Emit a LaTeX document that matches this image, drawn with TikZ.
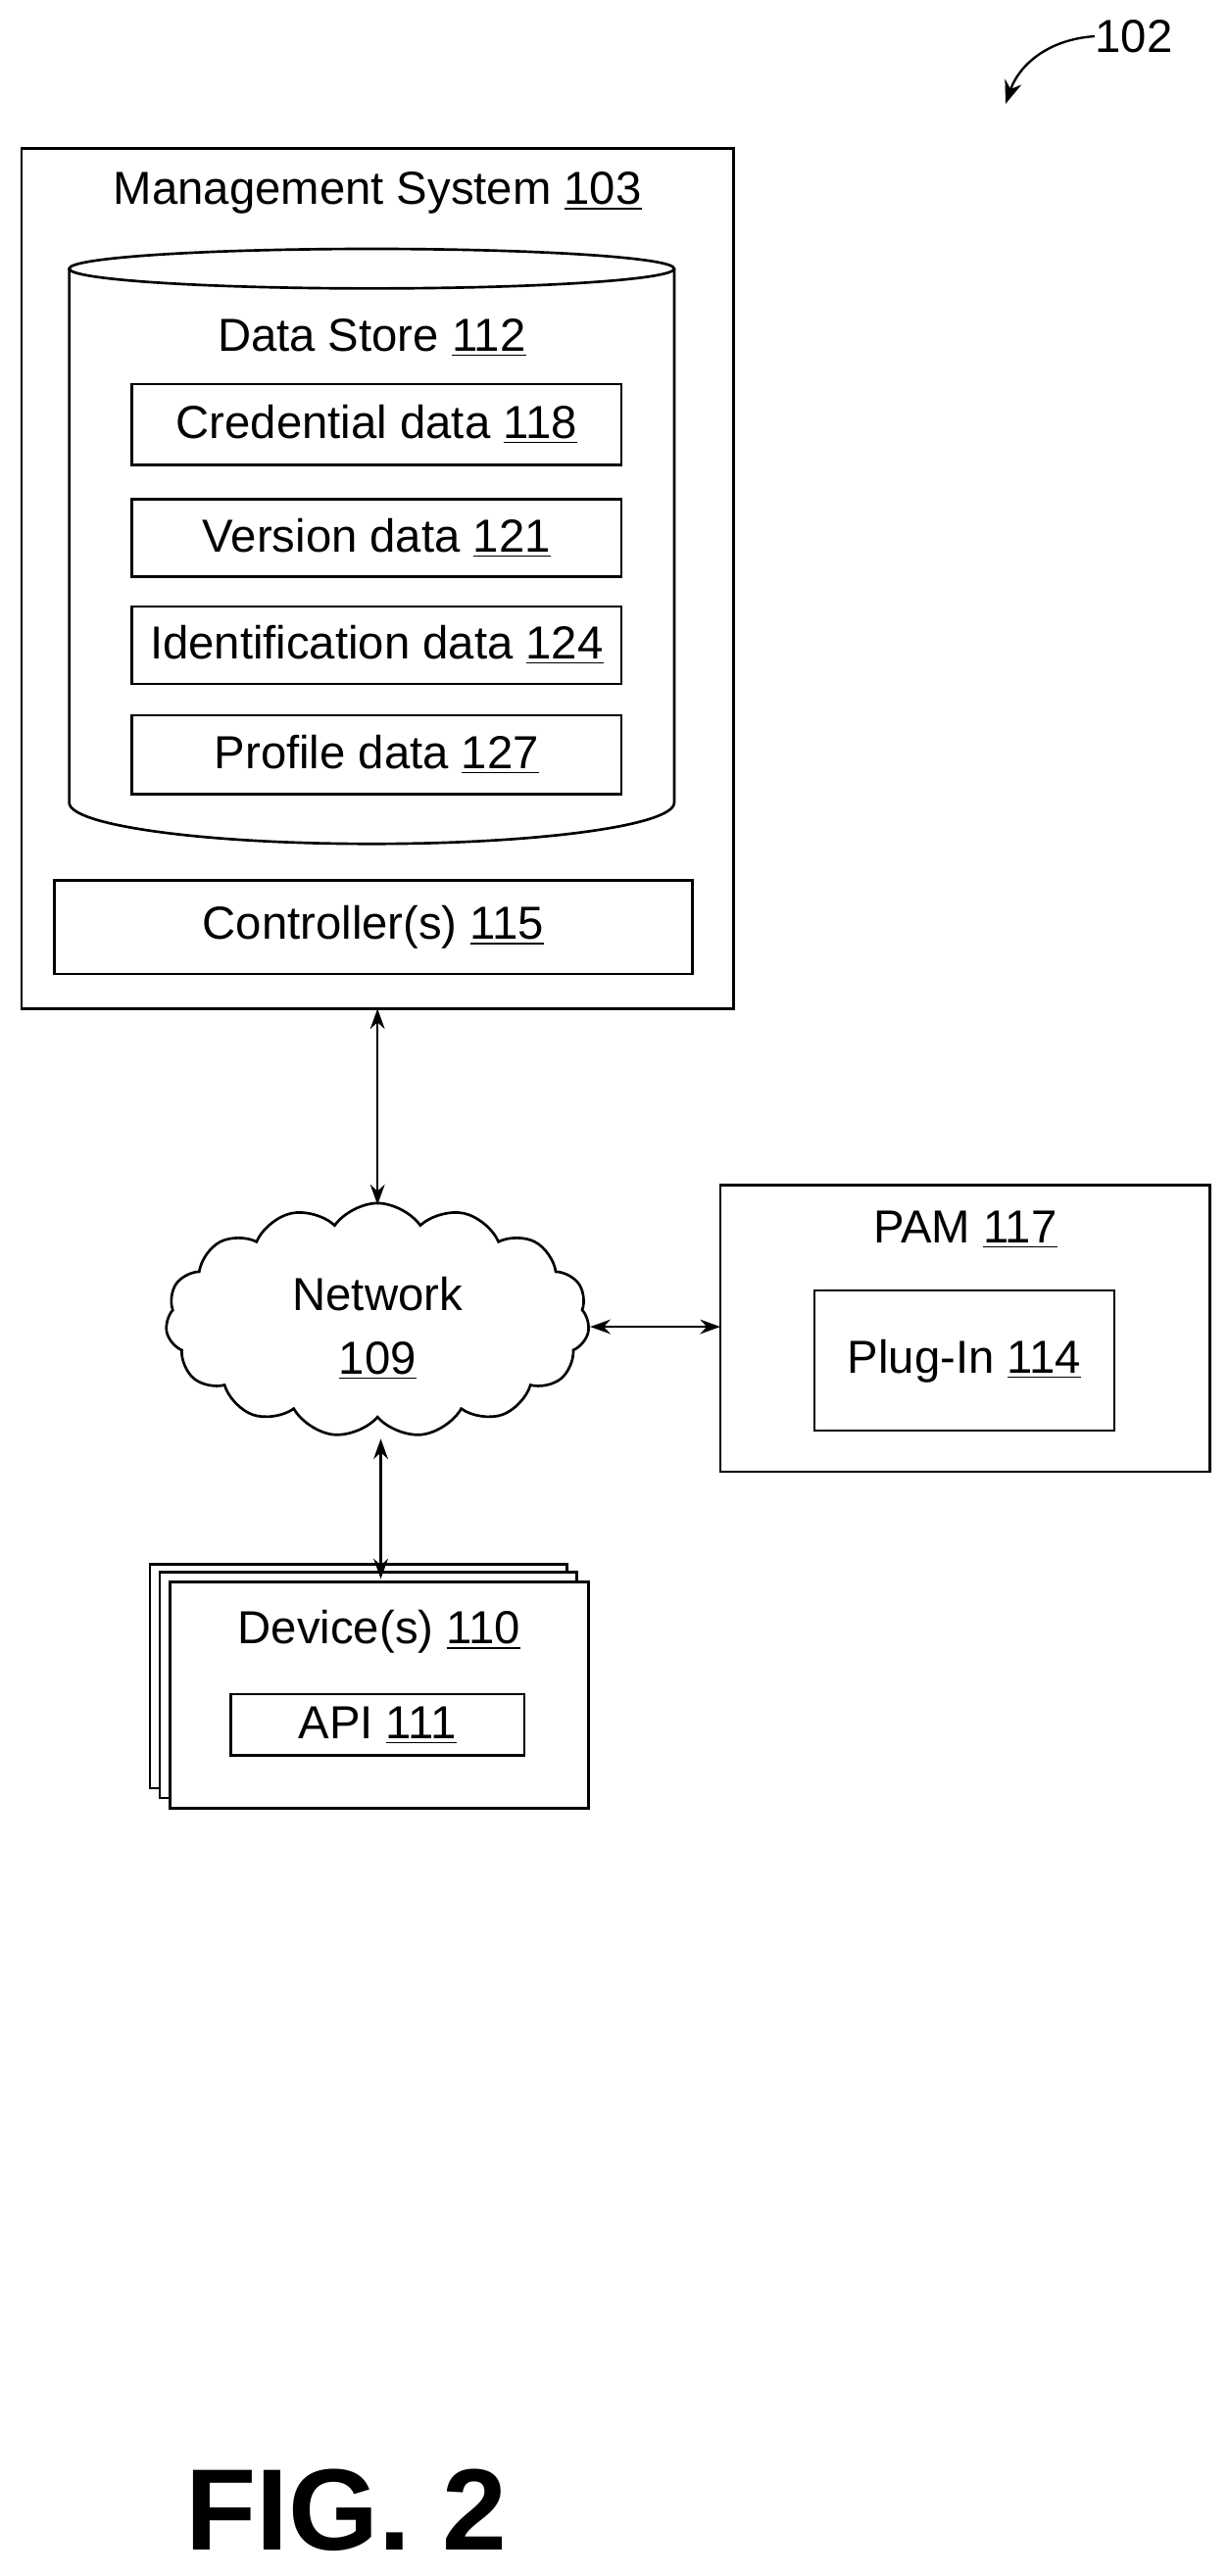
\documentclass[tikz,border=0pt]{standalone}
\usepackage{fontspec}
\setmainfont{Liberation Sans}
\usetikzlibrary{shapes.symbols,shapes.geometric,arrows.meta}
\newcommand{\ulnum}[1]{\underline{#1}}
\begin{document}
\begin{tikzpicture}[x=0.02cm,y=-0.02cm,
  box/.style={draw,line width=0.9pt,fill=white},
  txt/.style={font=\fontsize{16}{18}\selectfont,inner sep=0pt},
  conn/.style={line width=0.8pt,{Stealth[length=7pt,width=5pt]}-{Stealth[length=7pt,width=5pt]}}]
\useasboundingbox (0,0) rectangle (745,1563);
% reference label
\node[txt,anchor=west] (ref) at (664,22) {102};
\coordinate (reftip) at (610,63);
\draw[line width=0.8pt,-{Stealth[length=8pt,width=6pt]}] (ref.west) .. controls (635,24) and (618,40) .. (reftip);
% management system
\draw[box] (13,90) rectangle (445,612);
\node[txt] (ms) at (229,117) {Management System \ulnum{103}};
% cylinder
\draw[line width=0.9pt] (42,163) -- (42,487) arc[start angle=180,end angle=0,x radius=183.5,y radius=25] -- (409,163);
\draw[line width=0.9pt] (225.5,163) ellipse[x radius=183.5,y radius=12];
\node[txt] (ds) at (225.5,205) {Data Store \ulnum{112}};
\draw[box] (80,233) rectangle (377,282);
\node[txt] (cred) at (228.5,257.5) {Credential data \ulnum{118}};
\draw[box] (80,303) rectangle (377,350);
\node[txt] (ver) at (228.5,326.5) {Version data \ulnum{121}};
\draw[box] (80,368) rectangle (377,415);
\node[txt] (idd) at (228.5,391.5) {Identification data \ulnum{124}};
\draw[box] (80,434) rectangle (377,482);
\node[txt] (prof) at (228.5,458) {Profile data \ulnum{127}};
\draw[box] (33,534) rectangle (420,591);
\node[txt] (ctrl) at (226.5,562.5) {Controller(s) \ulnum{115}};
\coordinate (msbot) at (229,612);
% network cloud
\node[cloud,cloud puffs=15,cloud puff arc=110,draw,line width=0.9pt,minimum width=257*0.02cm,minimum height=142*0.02cm,aspect=1.8,inner sep=0pt] (net) at (229,801) {};
\node[txt,align=center] (nett) at (229,806) {Network\\[4pt]\ulnum{109}};
% PAM
\draw[box] (437,719) rectangle (734,893);
\node[txt] (pam) at (585.5,746) {PAM \ulnum{117}};
\draw[box] (494,783) rectangle (676,868);
\node[txt] (plug) at (585,826) {Plug-In \ulnum{114}};
\coordinate (pamleft) at (437,805);
% devices
\draw[box] (91,949) rectangle (344,1085);
\draw[box] (97,954) rectangle (350,1091);
\draw[box] (103,960) rectangle (357,1097);
\node[txt] (dev) at (230,990) {Device(s) \ulnum{110}};
\draw[box] (140,1028) rectangle (318,1065);
\node[txt] (api) at (229,1047) {API \ulnum{111}};
\coordinate (devtop) at (231,958);
% connectors
\draw[conn] (msbot) -- (229,731);
\draw[conn] (358,805) -- (pamleft);
\draw[conn] (231,873) -- (devtop);
% figure label
\node[font=\bfseries\fontsize{40}{44}\selectfont,inner sep=0pt,anchor=base] (fig) at (210,1547) {FIG. 2};
\end{tikzpicture}
\end{document}
